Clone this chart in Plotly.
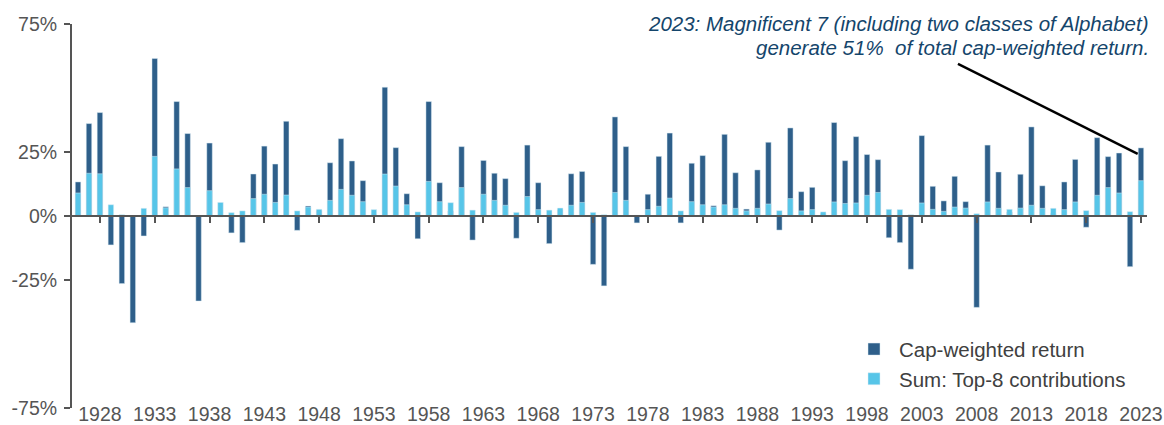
import plotly.graph_objects as go

years = list(range(1926, 2024))

cap_weighted = [
    13.3, 36.1, 40.4, -11.3, -26.4, -41.7, -7.8, 61.5, 3.6, 44.7,
    32.2, -33.2, 28.5, -0.4, -6.6, -10.4, 16.4, 27.3, 20.3, 37.0,
    -5.6, 3.9, 2.2, 20.8, 30.2, 21.5, 13.8, 0.5, 50.3, 26.7,
    8.7, -8.9, 44.7, 13.0, 2.0, 27.1, -9.4, 21.7, 16.7, 14.6,
    -8.7, 27.7, 13.0, -10.8, 2.5, 16.5, 17.4, -18.9, -27.3, 38.7,
    27.1, -2.7, 8.5, 23.3, 32.4, -2.7, 20.6, 23.6, 4.0, 31.9,
    16.9, 2.7, 18.0, 28.8, -5.5, 34.4, 9.5, 11.2, 1.0, 36.5,
    21.6, 31.0, 24.0, 22.0, -8.5, -10.4, -20.8, 31.4, 11.6, 5.9,
    15.5, 5.6, -35.7, 27.7, 17.2, 1.5, 16.3, 34.8, 11.8, 1.0,
    13.3, 22.1, -4.4, 30.6, 23.2, 24.6, -19.8, 26.6,
]

top8_sum = [
    9.0, 16.7, 16.5, 4.4, 0.5, 0.0, 3.0, 23.3, 3.2, 18.4,
    11.1, 0.0, 9.9, 5.3, 1.3, 2.0, 6.8, 8.5, 5.3, 8.2,
    2.0, 3.5, 2.6, 6.1, 10.4, 8.1, 5.6, 2.5, 16.4, 11.7,
    4.4, 1.6, 13.5, 5.6, 5.2, 11.1, 2.3, 8.5, 6.1, 4.2,
    1.4, 7.6, 2.5, 2.3, 3.1, 4.2, 5.3, 1.4, 0.5, 9.2,
    6.1, 0.3, 2.5, 3.8, 7.0, 2.0, 5.6, 4.4, 3.5, 4.4,
    3.0, 2.0, 3.0, 4.7, 2.1, 6.8, 2.0, 2.5, 1.6, 5.5,
    4.9, 5.1, 8.1, 9.2, 2.6, 2.5, 0.5, 5.1, 2.6, 1.8,
    3.5, 3.1, 0.9, 5.5, 3.0, 2.6, 3.1, 4.2, 3.0, 3.0,
    2.5, 5.5, 2.1, 8.1, 11.1, 9.0, 1.7, 13.8,
]

tick_years = list(range(1928, 2024, 5))
tick_labels = [str(y) for y in tick_years]
y_ticks = [75, 25, 0, -25, -75]
y_tick_labels = ["75%", "25%", "0%", "-25%", "-75%"]

note_line1 = "2023: Magnificent 7 (including two classes of Alphabet)"
note_line2 = "generate 51%  of total cap-weighted return."

DARK = "#2E5F8A"
LIGHT = "#57C5E8"
AXIS = "#555555"
NOTE = "#14456B"
FONT = "Liberation Sans, Arial, sans-serif"

xr = [years[0] - 0.55, years[-1] + 0.55]

fig = go.Figure()
fig.add_trace(go.Bar(
    x=years, y=cap_weighted, name="Cap-weighted return",
    marker=dict(color=DARK, line=dict(color="rgba(220,235,245,0.8)", width=0.6)),
    width=0.5, xaxis="x", yaxis="y",
))
fig.add_trace(go.Bar(
    x=years, y=top8_sum, name="Sum: Top-8 contributions",
    marker=dict(color=LIGHT, line=dict(color="rgba(220,235,245,0.8)", width=0.6)),
    width=0.5, xaxis="x2", yaxis="y",
))

fig.update_layout(
    template="none",
    width=1164, height=425,
    margin=dict(l=72, r=17, t=24, b=17, autoexpand=False),
    paper_bgcolor="white", plot_bgcolor="white",
    barmode="overlay",
    font=dict(family=FONT, color=AXIS),
    xaxis=dict(
        range=xr, tickmode="array", tickvals=tick_years, ticktext=tick_labels,
        ticks="", showline=False, showgrid=False, zeroline=False, automargin=False,
        tickfont=dict(size=19.5, color=AXIS, family=FONT),
        ticklabelstandoff=-8,
    ),
    xaxis2=dict(
        range=xr, overlaying="x", anchor="free", position=0.5,
        tickmode="array", tickvals=tick_years,
        ticks="outside", ticklen=6, tickwidth=2, tickcolor=AXIS,
        showline=True, linecolor=AXIS, linewidth=2, automargin=False,
        showticklabels=False, showgrid=False, zeroline=False,
    ),
    yaxis=dict(
        range=[-75, 75], tickmode="array", tickvals=y_ticks, ticktext=y_tick_labels,
        ticks="outside", ticklen=6, tickwidth=2, tickcolor=AXIS,
        showline=True, linecolor=AXIS, linewidth=2, automargin=False,
        showgrid=False, zeroline=False,
        tickfont=dict(size=19.5, color=AXIS, family=FONT),
        ticklabelstandoff=3,
    ),
    legend=dict(
        x=0.7228, y=0.205, xanchor="left", yanchor="top",
        font=dict(size=20.5, color="#404040", family=FONT),
        bgcolor="rgba(0,0,0,0)", traceorder="normal", itemwidth=40,
        tracegroupgap=0,
    ),
    showlegend=True,
)

fig.add_annotation(
    xref="paper", yref="paper", x=1.0037, y=1.0026, xanchor="right", yanchor="middle",
    align="right", showarrow=False, text="<i>" + note_line1 + "</i>",
    font=dict(size=20.5, color=NOTE, family=FONT),
)
fig.add_annotation(
    xref="paper", yref="paper", x=1.0037, y=0.9401, xanchor="right", yanchor="middle",
    align="right", showarrow=False, text="<i>" + note_line2 + "</i>",
    font=dict(size=20.5, color=NOTE, family=FONT),
)

fig.add_shape(
    type="line", xref="x", yref="y",
    x0=2006.3, y0=59.4, x1=years[-1] - 0.3, y1=cap_weighted[-1] - 2.3,
    line=dict(color="black", width=2.5),
)

fig.write_html(
    "out.html",
    config={"displayModeBar": False, "staticPlot": True},
    post_script="document.body.style.margin='0';document.body.style.padding='0';document.body.style.overflow='hidden';",
)
